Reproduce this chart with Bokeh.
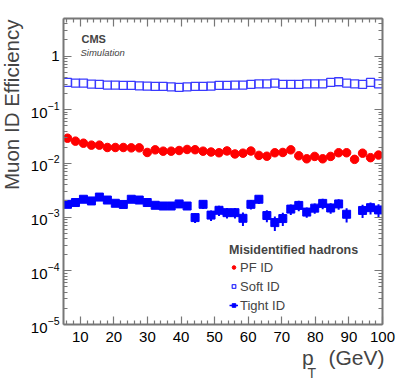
import numpy as np
from bokeh.plotting import figure
from bokeh.models import (FixedTicker, LinearAxis, LogAxis, Label, Legend,
                          LegendItem, Range1d, ColumnDataSource)
from bokeh.embed import file_html
from bokeh.resources import INLINE

# ---------------- data ----------------
pt_min, pt_max, n_bins = 5.0, 100.0, 40
pt_edges = np.linspace(pt_min, pt_max, n_bins + 1)
pt_centers = 0.5 * (pt_edges[:-1] + pt_edges[1:])

pf_eff = [0.0295, 0.0260, 0.0238, 0.0219, 0.0219, 0.0198, 0.0198, 0.0198, 0.0195, 0.0195,
          0.0160, 0.0179, 0.0169, 0.0169, 0.0174, 0.0182, 0.0180, 0.0169, 0.0163, 0.0158,
          0.0171, 0.0150, 0.0155, 0.0170, 0.0141, 0.0136, 0.0158, 0.0160, 0.0179, 0.0139,
          0.0122, 0.0135, 0.0122, 0.0135, 0.0158, 0.0158, 0.0119, 0.0155, 0.0128, 0.0143]

soft_eff = [0.323, 0.313, 0.313, 0.300, 0.296, 0.288, 0.288, 0.284, 0.284, 0.279,
            0.275, 0.272, 0.272, 0.267, 0.261, 0.267, 0.272, 0.272, 0.275, 0.284,
            0.284, 0.288, 0.288, 0.296, 0.304, 0.304, 0.313, 0.296, 0.296, 0.296,
            0.304, 0.304, 0.304, 0.323, 0.332, 0.313, 0.304, 0.296, 0.323, 0.304]

nan = float("nan")
tight_eff = [0.00173, 0.00187, 0.00215, 0.00200, 0.00236, 0.00208, 0.00181, 0.00172, 0.00215, 0.00208,
             0.00187, 0.00166, 0.00161, 0.00161, 0.00176, 0.00161, 0.00098, 0.00173, 0.00109, 0.00134,
             0.00121, 0.00121, 0.00095, 0.00173, 0.00215, 0.00107, 0.00079, 0.00094, 0.00141, 0.00165,
             0.00124, 0.00147, 0.00180, 0.00148, 0.00176, 0.00113, nan, 0.00133, 0.00150, 0.00136]

tight_err = [0.00021, 0.00022, 0.00026, 0.00024, 0.00028, 0.00025, 0.00022, 0.00021, 0.00026, 0.00025,
             0.00022, 0.00020, 0.00019, 0.00019, 0.00021, 0.00019, 0.00020, 0.00031, 0.00024, 0.00029,
             0.00027, 0.00027, 0.00027, 0.00035, 0.00039, 0.00027, 0.00024, 0.00026, 0.00031, 0.00036,
             0.00027, 0.00032, 0.00040, 0.00033, 0.00039, 0.00034, nan, 0.00037, 0.00038, 0.00038]

x_major_ticks = [10, 20, 30, 40, 50, 60, 70, 80, 90, 100]
y_major_ticks = [1e-5, 1e-4, 1e-3, 1e-2, 1e-1, 1.0]

# ---------------- figure ----------------
FONT = "Liberation Sans"
AXIS_COL = "#777777"

p = figure(width=397, height=379, x_range=Range1d(pt_min, pt_max), y_range=Range1d(1e-5, 5),
           y_axis_type="log", output_backend="svg", toolbar_location=None,
           min_border_left=63, min_border_right=15, min_border_top=18, min_border_bottom=55)
p.grid.visible = False
p.outline_line_color = None
p.background_fill_color = "white"
p.border_fill_color = "white"

x_minor = [float(v) for v in np.arange(6, 100, 2) if v % 10 != 0]
y_minor = [k * 10.0 ** e for e in range(-5, 1) for k in range(2, 10)]
x_ticker = FixedTicker(ticks=x_major_ticks, minor_ticks=x_minor)
y_ticker = FixedTicker(ticks=y_major_ticks, minor_ticks=y_minor)


def style(ax, labels=True):
    ax.axis_line_color = AXIS_COL
    ax.axis_line_width = 2
    ax.major_tick_line_color = AXIS_COL
    ax.minor_tick_line_color = AXIS_COL
    ax.major_tick_line_width = 1.2
    ax.minor_tick_line_width = 1.2
    ax.major_tick_in = 8
    ax.major_tick_out = 0
    ax.minor_tick_in = 4
    ax.minor_tick_out = 0
    ax.major_label_text_font = FONT
    ax.major_label_text_color = "black"
    if labels:
        ax.major_label_text_font_size = "15px"
    else:
        ax.major_label_text_font_size = "1px"
        ax.major_label_text_color = None
        ax.major_label_standoff = 0


xa = p.xaxis[0]
xa.ticker = x_ticker
style(xa)
xa.major_label_standoff = 7

ya = p.yaxis[0]
ya.ticker = y_ticker
style(ya)
ya.major_label_standoff = 4
ya.major_label_overrides = {1: "1"}

top_ax = LinearAxis(ticker=x_ticker)
style(top_ax, labels=False)
p.add_layout(top_ax, "above")

right_ax = LogAxis(ticker=y_ticker)
style(right_ax, labels=False)
p.add_layout(right_ax, "right")

# ---------------- series ----------------
src_pf = ColumnDataSource(dict(x=pt_centers, y=pf_eff))
src_soft = ColumnDataSource(dict(x=pt_centers, y=soft_eff))
t_eff = np.array(tight_eff)
t_err = np.array(tight_err)
src_tight = ColumnDataSource(dict(x=pt_centers, y=t_eff, lo=t_eff - t_err, hi=t_eff + t_err,
                                  xl=pt_edges[:-1], xr=pt_edges[1:]))

r_soft = p.scatter("x", "y", source=src_soft, marker="square", size=8,
                   fill_color=None, line_color="#3a3aff", line_width=1.3)
r_pf = p.scatter("x", "y", source=src_pf, marker="circle", size=8.5,
                 fill_color="#ff0000", line_color="#ff0000")
r_terr = p.segment(x0="x", y0="lo", x1="x", y1="hi", source=src_tight,
                   line_color="#0000ff", line_width=2)
r_txerr = p.segment(x0="xl", y0="y", x1="xr", y1="y", source=src_tight,
                    line_color="#0000ff", line_width=1.5)
r_tight = p.scatter("x", "y", source=src_tight, marker="square", size=8,
                    fill_color="#0000ff", line_color="#0000ff")

legend = Legend(items=[LegendItem(label="PF ID", renderers=[r_pf]),
                       LegendItem(label="Soft ID", renderers=[r_soft]),
                       LegendItem(label="Tight ID", renderers=[r_txerr, r_tight])],
                location=(166, 11), title="Misidentified hadrons")
legend.title_text_font = FONT
legend.title_text_font_style = "bold"
legend.title_text_font_size = "12.5px"
legend.title_standoff = 2
legend.label_text_font = FONT
legend.label_text_font_size = "13px"
legend.border_line_color = None
legend.background_fill_alpha = 0
legend.padding = 0
legend.margin = 0
legend.glyph_width = 9
legend.glyph_height = 16
legend.label_height = 16
legend.label_standoff = 2
legend.spacing = 3
p.add_layout(legend)

# ---------------- texts ----------------
p.add_layout(Label(x=18, y=286, x_units="screen", y_units="screen", text="CMS",
                   text_font=FONT, text_font_style="bold", text_font_size="11px",
                   text_baseline="alphabetic"))
p.add_layout(Label(x=17, y=272, x_units="screen", y_units="screen", text="Simulation",
                   text_font=FONT, text_font_style="italic", text_font_size="9.5px",
                   text_baseline="alphabetic"))

# axis titles live in the side panels so they are not clipped by the frame
p.add_layout(Label(x=7, y=305, x_units="screen", y_units="screen", text="Muon ID Efficiency",
                   text_font=FONT, text_font_size="20.5px", angle=np.pi / 2,
                   text_align="right", text_baseline="alphabetic"), "left")
p.add_layout(Label(x=321, y=10, x_units="screen", y_units="screen", text="p\u2002\u2009(GeV)",
                   text_font=FONT, text_font_size="21px", text_align="right",
                   text_baseline="alphabetic"), "below")
p.add_layout(Label(x=-75, y=-48, x_units="screen", y_units="screen", text="T",
                   text_font=FONT, text_font_size="14px", text_baseline="alphabetic"), "right")

open("out.html", "w").write(file_html(p, INLINE))
